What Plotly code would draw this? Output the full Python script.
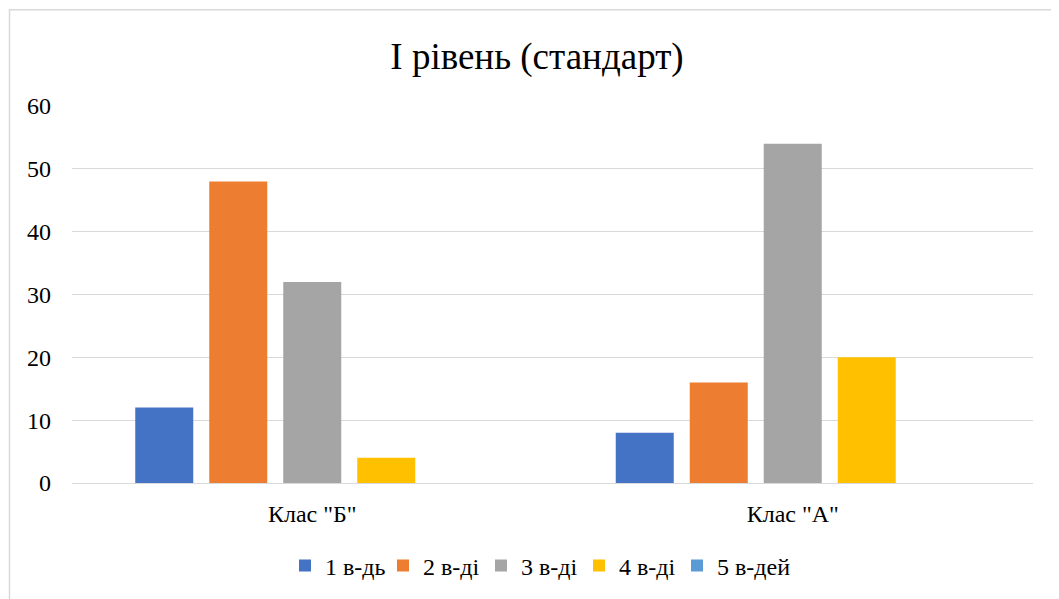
import plotly.graph_objects as go

categories = ['Клас "Б"', 'Клас "А"']
series_names = ["1 в-дь", "2 в-ді", "3 в-ді", "4 в-ді", "5 в-дей"]
values_1 = [12, 8]
values_2 = [48, 16]
values_3 = [32, 54]
values_4 = [4, 20]
values_5 = [0, 0]
colors = ["#4472C4", "#ED7D31", "#A5A5A5", "#FFC000", "#5B9BD5"]

OFF = 8  # default page body margin
W, H = 1059 - OFF, 599 - OFF
L, T = 72 - OFF, 106 - OFF
R = W - (1033 - OFF)
B = H - (484 - OFF)
pw, ph = W - L - R, H - T - B

fig = go.Figure()
for name, vals, c in zip(series_names, [values_1, values_2, values_3, values_4, values_5], colors):
    fig.add_trace(go.Bar(name=name, x=categories, y=vals, marker=dict(color=c, line=dict(width=0))))
# invisible spacer entry so the last legend label is not clipped
fig.add_trace(go.Scatter(x=[None], y=[None], name=" ", mode="markers",
                         marker=dict(color="rgba(0,0,0,0)"), hoverinfo="skip", showlegend=True))

font = "Liberation Serif"
fig.update_layout(
    width=W, height=H,
    margin=dict(l=L, r=R, t=T, b=B),
    paper_bgcolor="white", plot_bgcolor="white",
    barmode="group", bargap=0.23, bargroupgap=0.216,
    font=dict(family=font, color="#000000", size=24),
    title=dict(text="І рівень (стандарт)", x=(537 - OFF) / W, xanchor="center",
               y=1 - (56 - OFF) / H, yanchor="middle", yref="container",
               font=dict(family=font, size=37, color="#000000")),
    legend=dict(orientation="h", x=(579 - 72) / pw, xanchor="center",
                y=-(566 - 484) / ph, yanchor="middle",
                font=dict(family=font, size=24), itemwidth=30, traceorder="normal",
                entrywidth=53, entrywidthmode="pixels"),
    xaxis=dict(showgrid=False, showline=False, ticks="", ticklabelstandoff=14,
               tickfont=dict(family=font, size=24)),
    yaxis=dict(range=[0, 60], dtick=10, showgrid=True, gridcolor="#D9D9D9", gridwidth=1,
               zeroline=True, zerolinecolor="#D9D9D9", zerolinewidth=1, showline=False,
               ticks="", ticklabelstandoff=20, tickfont=dict(family=font, size=24)),
    shapes=[dict(type="rect", xref="paper", yref="paper",
                 x0=(9.5 - 72) / pw, x1=(1075 - 72) / pw,
                 y0=-(620 - 484) / ph, y1=1 + (106 - 9.5) / ph,
                 line=dict(color="#D9D9D9", width=1.5), fillcolor="rgba(0,0,0,0)", layer="below")],
)

fig.write_html("out.html")
